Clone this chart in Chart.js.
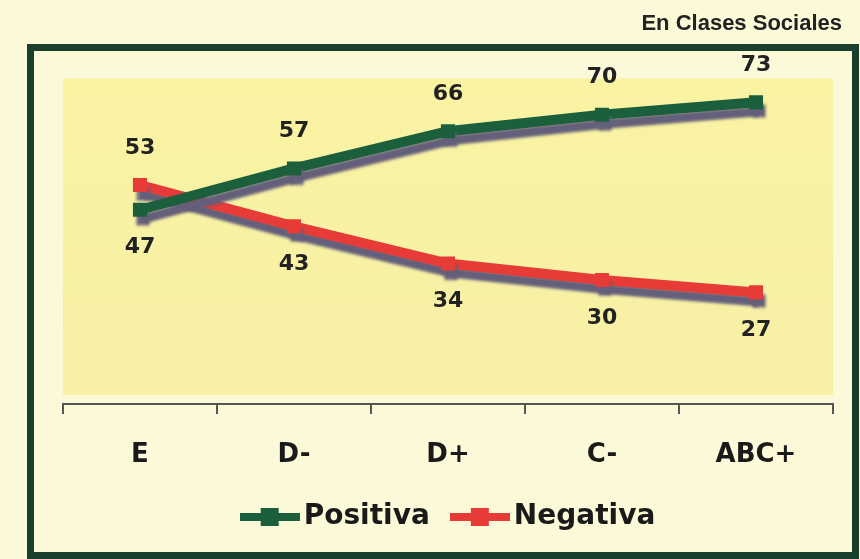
<!DOCTYPE html>
<html>
<head>
<meta charset="utf-8">
<script src="https://cdn.jsdelivr.net/npm/chart.js@4/dist/chart.umd.min.js"></script>
<style>
  html, body { margin: 0; padding: 0; background: #fbf9d8; }
  #wrap { width: 860px; height: 559px; position: relative; }
</style>
</head>
<body>
<div id="wrap"><canvas id="c" width="860" height="559"></canvas></div>
<script>
const categories = ['E', 'D-', 'D+', 'C-', 'ABC+'];
const positiva = [47, 57, 66, 70, 73];
const negativa = [53, 43, 34, 30, 27];
const seriesNames = ['Positiva', 'Negativa'];

const GREEN = '#1c5f3d';
const RED = '#e63b36';
const FONT = "'DejaVu Sans', 'Open Sans', sans-serif";

function legendIcon(color) {
  const cv = document.createElement('canvas');
  cv.width = 60; cv.height = 22;
  const g = cv.getContext('2d');
  g.fillStyle = color;
  g.fillRect(0, 7, 60, 8);
  g.fillRect(21, 2, 18, 18);
  return cv;
}

const bgPlugin = {
  id: 'bg',
  beforeDraw(chart) {
    const { ctx, chartArea: a } = chart;
    ctx.save();
    ctx.fillStyle = '#fbf9d8';
    ctx.fillRect(0, 0, chart.width, chart.height);
    const grad = ctx.createLinearGradient(0, a.top, 0, a.bottom);
    grad.addColorStop(0, '#f9f3a2');
    grad.addColorStop(1, '#f7f0a6');
    ctx.fillStyle = grad;
    ctx.fillRect(a.left, a.top + 5, a.right - a.left, a.bottom - a.top - 14);
    ctx.strokeStyle = '#1a3f2c';
    ctx.lineWidth = 7;
    ctx.strokeRect(30.5, 47.5, 825, 508);
    ctx.restore();
  }
};

const shadowPlugin = {
  id: 'shadow',
  beforeDatasetDraw(chart) {
    const ctx = chart.ctx;
    ctx.save();
    ctx.shadowColor = 'rgba(100, 95, 122, 1)';
    ctx.shadowOffsetX = 3;
    ctx.shadowOffsetY = 9;
    ctx.shadowBlur = 3;
  },
  afterDatasetDraw(chart) {
    chart.ctx.restore();
  }
};

const labelPlugin = {
  id: 'vlabels',
  afterDatasetsDraw(chart) {
    const ctx = chart.ctx;
    const dsAll = chart.data.datasets;
    ctx.save();
    ctx.font = "bold 22px " + FONT;
    ctx.fillStyle = '#222222';
    ctx.textAlign = 'center';
    ctx.textBaseline = 'middle';
    dsAll.forEach((ds, di) => {
      const meta = chart.getDatasetMeta(di);
      meta.data.forEach((pt, i) => {
        const v = ds.data[i];
        const other = dsAll[1 - di].data[i];
        const above = v >= other;
        const y = above ? pt.y - 37 : pt.y + 38;
        ctx.fillText(String(v), pt.x, y);
      });
    });
    ctx.restore();
  }
};

new Chart(document.getElementById('c'), {
  type: 'line',
  data: {
    labels: categories,
    datasets: [
      {
        label: seriesNames[0], data: positiva,
        borderColor: GREEN, backgroundColor: GREEN,
        borderWidth: 10, pointStyle: 'rect', pointRadius: 10,
        pointBackgroundColor: GREEN, pointBorderWidth: 0, tension: 0
      },
      {
        label: seriesNames[1], data: negativa,
        borderColor: RED, backgroundColor: RED,
        borderWidth: 10, pointStyle: 'rect', pointRadius: 10,
        pointBackgroundColor: RED, pointBorderWidth: 0, tension: 0
      }
    ]
  },
  options: {
    responsive: false,
    animation: false,
    layout: { padding: { left: 63, right: 18, top: 6, bottom: 18 } },
    plugins: {
      title: {
        display: true, text: 'En Clases Sociales', align: 'end',
        color: '#222222',
        font: { family: "'Liberation Sans', Arial, sans-serif", size: 22, weight: 'bold' },
        padding: { top: 5, bottom: 36 }
      },
      legend: {
        position: 'bottom',
        labels: {
          usePointStyle: true,
          pointStyleWidth: 40,
          color: '#1a1a1a',
          font: { family: FONT, size: 28, weight: 'bold' },
          padding: 30,
          generateLabels(chart) {
            return chart.data.datasets.map((ds, i) => ({
              text: ds.label, fillStyle: ds.borderColor, strokeStyle: ds.borderColor,
              lineWidth: 0, pointStyle: legendIcon(ds.borderColor), datasetIndex: i,
              fontColor: '#1a1a1a'
            }));
          }
        }
      },
      tooltip: { enabled: false }
    },
    scales: {
      x: {
        offset: true,
        grid: { display: true, drawOnChartArea: false, offset: true, tickLength: 10, color: '#555555', lineWidth: 2 },
        border: { display: true, color: '#555555', width: 2 },
        ticks: { color: '#1a1a1a', font: { family: FONT, size: 26, weight: 'bold' }, padding: 26 },
        afterFit(s) { s.height = 69; }
      },
      y: {
        position: 'right',
        min: 0, max: 80,
        grid: { display: false },
        border: { display: false },
        ticks: { display: false },
        afterFit(s) { s.width = 9; }
      }
    }
  },
  plugins: [bgPlugin, shadowPlugin, labelPlugin]
});
</script>
</body>
</html>
